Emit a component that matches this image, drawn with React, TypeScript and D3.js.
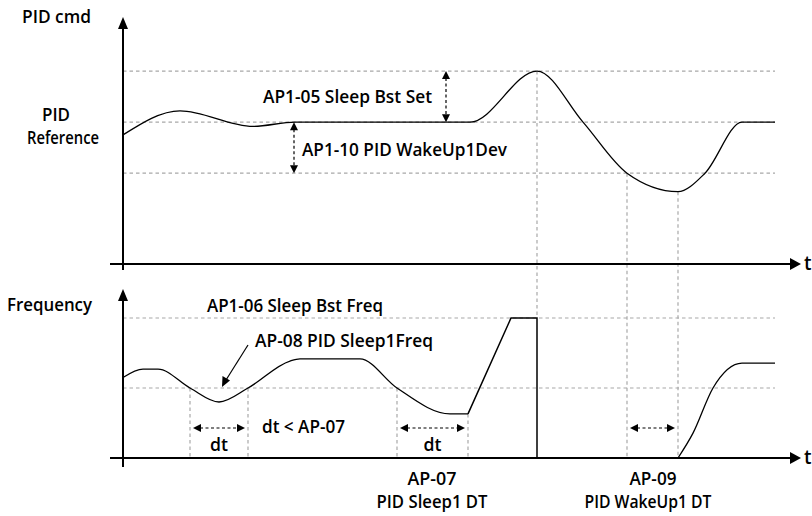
import React from "react";
import * as d3 from "d3";

// ---------- data ----------
// time axis (arbitrary units)
const tMax = 68;
// top panel: PID command (arbitrary units)
const pidRef = 100;
const pidBoostSet = 136; // PID ref + AP1-05 Sleep Bst Set
const pidWakeLevel = 64; // PID ref - AP1-10 PID WakeUp1Dev
const pidTimes = [0, 5.7, 13, 17.2, 34.7, 41.4, 46, 50.4, 55.5, 58.2, 61.9, 65.2];
const pidValues = [91, 108, 97, 100, 100, 136, 100, 64, 51, 64, 100, 100];

// bottom panel: frequency (Hz)
const freqBoost = 40; // AP1-06 Sleep Bst Freq
const freqSleep = 20; // AP-08 PID Sleep1Freq
const freqSmoothTimes = [0, 2, 3.5, 6.7, 9.6, 12.5, 16.7, 17.7, 23.7, 27.4, 32.7, 34.5];
const freqSmoothValues = [23, 25.4, 25.4, 20, 16, 20, 27.7, 28.3, 28.3, 20, 12.6, 12.6];
const freqLinearTimes = [34.5, 38.8, 41.4, 41.4, 55.5];
const freqLinearValues = [12.6, 40, 40, 0, 0];
const freqWakeTimes = [55.5, 57, 59, 61.9, 65.2];
const freqWakeValues = [0, 7.1, 20, 27.1, 27.1];

// marker times
const sleepDt1 = [6.7, 12.5];
const sleepDt2 = [27.4, 34.5];
const wakeDt = [50.4, 55.5];

// ---------- layout ----------
const W = 812;
const H = 516;
const FONT = "'Open Sans', sans-serif";

const x = d3.scaleLinear().domain([0, tMax]).range([123, 803]);
const yTop = d3.scaleLinear().domain([0, 172]).range([264, 20]);
const yBot = d3.scaleLinear().domain([0, 48]).range([458, 290]);

const GRID = "#a8a8a8";

function smooth(ts: number[], vs: number[], y: d3.ScaleLinear<number, number>) {
  const pts = ts.map((t, i) => [t, vs[i]] as [number, number]);
  return d3
    .line<[number, number]>()
    .x((d) => x(d[0]))
    .y((d) => y(d[1]))
    .curve(d3.curveMonotoneX)(pts) as string;
}
function linear(ts: number[], vs: number[], y: d3.ScaleLinear<number, number>) {
  const pts = ts.map((t, i) => [t, vs[i]] as [number, number]);
  return d3
    .line<[number, number]>()
    .x((d) => x(d[0]))
    .y((d) => y(d[1]))(pts) as string;
}

const Hline = ({ yv, x0, x1 }: { yv: number; x0: number; x1: number }) => (
  <line x1={x0} x2={x1} y1={yv} y2={yv} stroke={GRID} strokeWidth={1.2} strokeDasharray="3.5,3" />
);
const Vline = ({ xv, y0, y1 }: { xv: number; y0: number; y1: number }) => (
  <line x1={xv} x2={xv} y1={y0} y2={y1} stroke={GRID} strokeWidth={1.2} strokeDasharray="3.5,3" />
);

// double-headed dashed arrow
const DArrowV = ({ xv, y0, y1 }: { xv: number; y0: number; y1: number }) => (
  <g>
    <line x1={xv} x2={xv} y1={y0 + 7} y2={y1 - 7} stroke="#000" strokeWidth={1.2} strokeDasharray="3,2.5" />
    <path d={`M${xv},${y0} L${xv - 4},${y0 + 8} L${xv + 4},${y0 + 8} Z`} fill="#000" />
    <path d={`M${xv},${y1} L${xv - 4},${y1 - 8} L${xv + 4},${y1 - 8} Z`} fill="#000" />
  </g>
);
const DArrowH = ({ yv, x0, x1 }: { yv: number; x0: number; x1: number }) => (
  <g>
    <line x1={x0 + 7} x2={x1 - 7} y1={yv} y2={yv} stroke="#000" strokeWidth={1.2} strokeDasharray="3,2.5" />
    <path d={`M${x0},${yv} L${x0 + 8},${yv - 4} L${x0 + 8},${yv + 4} Z`} fill="#000" />
    <path d={`M${x1},${yv} L${x1 - 8},${yv - 4} L${x1 - 8},${yv + 4} Z`} fill="#000" />
  </g>
);

const txt = {
  fontFamily: FONT,
  fontWeight: 600,
  fontSize: 18.5,
  fill: "#000",
} as React.CSSProperties;

const Label = ({
  x0,
  y0,
  len,
  anchor = "start",
  size,
  children,
}: {
  x0: number;
  y0: number;
  len: number;
  anchor?: "start" | "middle" | "end";
  size?: number;
  children: React.ReactNode;
}) => (
  <text
    x={x0}
    y={y0}
    textAnchor={anchor}
    textLength={len}
    lengthAdjust="spacingAndGlyphs"
    style={size ? { ...txt, fontSize: size } : txt}
  >
    {children}
  </text>
);

export default function App() {
  const gx0 = x(0);
  const gx1 = x(65.2);
  const axX0 = 110;
  const axX1 = 791;

  return (
    <svg width={W} height={H} style={{ position: "absolute", left: 0, top: 0, background: "#fff" }}>
      {/* ---------- TOP PANEL ---------- */}
      <Hline yv={yTop(pidBoostSet)} x0={gx0} x1={gx1} />
      <Hline yv={yTop(pidRef)} x0={gx0} x1={gx1} />
      <Hline yv={yTop(pidWakeLevel)} x0={gx0} x1={gx1} />

      {/* vertical guides */}
      <line x1={x(41.4)} x2={x(41.4)} y1={yTop(pidBoostSet)} y2={yBot(freqBoost)} stroke={GRID} strokeWidth={1.2} strokeDasharray="3.5,3" />
      <Vline xv={x(wakeDt[0])} y0={yTop(pidWakeLevel)} y1={yBot(0)} />
      <Vline xv={x(wakeDt[1])} y0={yTop(51)} y1={yBot(0)} />

      {/* axes */}
      <line x1={123} x2={123} y1={28} y2={270} stroke="#000" strokeWidth={2} />
      <path d="M123,17 L118,29 L128,29 Z" fill="#000" />
      <line x1={axX0} x2={axX1} y1={yTop(0)} y2={yTop(0)} stroke="#000" strokeWidth={2} />
      <path d={`M801,${yTop(0)} L790,${yTop(0) - 6} L790,${yTop(0) + 6} Z`} fill="#000" />
      <text x={804} y={yTop(0) + 6} style={{ ...txt, fontSize: 19 }}>t</text>

      <path d={smooth(pidTimes, pidValues, yTop)} fill="none" stroke="#000" strokeWidth={1.3} />

      <DArrowV xv={446} y0={yTop(pidBoostSet)} y1={yTop(pidRef)} />
      <DArrowV xv={294} y0={yTop(pidRef)} y1={yTop(pidWakeLevel)} />

      <Label x0={263} y0={103} len={169}>AP1-05 Sleep Bst Set</Label>
      <Label x0={302} y0={156} len={205}>AP1-10 PID WakeUp1Dev</Label>

      <Label x0={22} y0={23} len={69}>PID cmd</Label>
      <Label x0={42} y0={121} len={28}>PID</Label>
      <Label x0={27} y0={144} len={72}>Reference</Label>

      {/* ---------- BOTTOM PANEL ---------- */}
      <Hline yv={yBot(freqBoost)} x0={gx0} x1={gx1} />
      <Hline yv={yBot(freqSleep)} x0={gx0} x1={gx1} />

      <Vline xv={x(sleepDt1[0])} y0={yBot(freqSleep)} y1={yBot(0)} />
      <Vline xv={x(sleepDt1[1])} y0={yBot(freqSleep)} y1={yBot(0)} />
      <Vline xv={x(sleepDt2[0])} y0={yBot(freqSleep)} y1={yBot(0)} />
      <Vline xv={x(sleepDt2[1])} y0={yBot(12.6)} y1={yBot(0)} />

      <line x1={123} x2={123} y1={300} y2={467} stroke="#000" strokeWidth={2} />
      <path d="M123,289 L118,301 L128,301 Z" fill="#000" />
      <line x1={axX0} x2={axX1} y1={yBot(0)} y2={yBot(0)} stroke="#000" strokeWidth={2} />
      <path d={`M801,${yBot(0)} L790,${yBot(0) - 6} L790,${yBot(0) + 6} Z`} fill="#000" />
      <text x={804} y={yBot(0) + 6} style={{ ...txt, fontSize: 19 }}>t</text>

      <path d={smooth(freqSmoothTimes, freqSmoothValues, yBot)} fill="none" stroke="#000" strokeWidth={1.3} />
      <path d={linear(freqLinearTimes, freqLinearValues, yBot)} fill="none" stroke="#000" strokeWidth={1.5} />
      <path d={smooth(freqWakeTimes, freqWakeValues, yBot)} fill="none" stroke="#000" strokeWidth={1.3} />

      <DArrowH yv={428} x0={x(sleepDt1[0]) + 3} x1={x(sleepDt1[1]) - 3} />
      <DArrowH yv={428} x0={x(sleepDt2[0]) + 3} x1={x(sleepDt2[1]) - 3} />
      <DArrowH yv={428} x0={x(wakeDt[0]) + 3} x1={x(wakeDt[1]) - 3} />

      <Label x0={(x(sleepDt1[0]) + x(sleepDt1[1])) / 2} y0={451} len={18} anchor="middle">dt</Label>
      <Label x0={(x(sleepDt2[0]) + x(sleepDt2[1])) / 2} y0={451} len={18} anchor="middle">dt</Label>
      <Label x0={262} y0={433} len={83}>dt &lt; AP-07</Label>

      <Label x0={207} y0={312} len={176}>AP1-06 Sleep Bst Freq</Label>
      <Label x0={255} y0={347} len={178}>AP-08 PID Sleep1Freq</Label>
      {/* pointer arrow */}
      <line x1={248} y1={345} x2={226} y2={380} stroke="#000" strokeWidth={1.2} />
      <path d="M222,387 L222.5,376 L230,380.5 Z" fill="#000" />

      <Label x0={7} y0={311} len={85}>Frequency</Label>

      <Label x0={432} y0={485} len={49} anchor="middle">AP-07</Label>
      <Label x0={432} y0={508} len={111} anchor="middle">PID Sleep1 DT</Label>
      <Label x0={653} y0={485} len={47} anchor="middle">AP-09</Label>
      <Label x0={648} y0={508} len={127} anchor="middle">PID WakeUp1 DT</Label>
    </svg>
  );
}
